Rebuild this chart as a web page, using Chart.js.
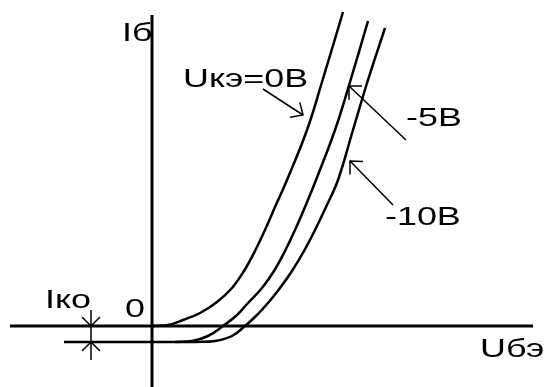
<!DOCTYPE html>
<html>
<head>
<meta charset="utf-8">
<script src="https://cdn.jsdelivr.net/npm/chart.js@4.4.0/dist/chart.umd.min.js"></script>
<style>
  body { margin: 0; background: #ffffff; }
  canvas { display: block; }
</style>
</head>
<body>
<canvas id="myChart" width="544" height="387"></canvas>
<script>
// base current vs base-emitter voltage, arbitrary units (origin at the axes crossing)
const ube0 = [0, 16, 31, 48, 65, 80, 92, 103, 113, 123, 135, 155, 170, 191];
const ib0 = [0, 1, 6, 13, 24, 38, 55, 75, 96, 119, 146, 196, 244, 314];

const ube5 = [23, 40, 56, 71, 85, 96, 110, 122, 133, 143, 153, 164, 183, 198, 216];
const ib5 = [-16, -15, -10, 0, 11, 23, 38, 55, 75, 96, 119, 146, 196, 244, 305];

const ube10 = [43, 63, 80, 93, 105, 116, 128, 140, 152, 163, 174, 186, 201, 216, 233];
const ib10 = [-16, -15, -10, 0, 11, 23, 38, 55, 75, 96, 119, 146, 196, 246, 298];

// reverse current Iko level
const ikoX = [-88, 43];
const ikoY = [-16, -16];

// axes
const axisX = [-142, 381];
const axisY = [311, -61];

// label arrows: [startX, startY, tipX, tipY]
const arrows = [
  [111, 237, 151, 211],
  [254, 186, 197, 240],
  [241, 121, 198, 165],
];

const labels = [
  { text: "Uкэ=0В", x: 31, y: 239 },
  { text: "-5В", x: 254, y: 200 },
  { text: "-10В", x: 233, y: 101 },
  { text: "Uбэ", x: 328, y: -31 },
  { text: "Iб", x: -30, y: 285 },
  { text: "Iко", x: -107, y: 18 },
  { text: "0", x: -27, y: 9 },
];

function toPoints(xs, ys) {
  return xs.map((x, i) => ({ x: x, y: ys[i] }));
}

function lineSet(points, width, tension) {
  return {
    data: points,
    showLine: true,
    borderColor: "#000000",
    borderWidth: width,
    pointRadius: 0,
    tension: tension || 0,
  };
}

const datasets = [
  lineSet([{ x: axisX[0], y: 0 }, { x: axisX[1], y: 0 }], 3),
  lineSet([{ x: 0, y: axisY[0] }, { x: 0, y: axisY[1] }], 3),
  lineSet(toPoints(ikoX, ikoY), 2.5),
  lineSet(toPoints(ube0, ib0), 2.5, 0.4),
  lineSet(toPoints(ube5, ib5), 2.5, 0.4),
  lineSet(toPoints(ube10, ib10), 2.5, 0.4),
];

// dimension mark for Iko
const mx = -61;
datasets.push(lineSet([{ x: mx, y: 16 }, { x: mx, y: -34 }], 1.5));
datasets.push(lineSet([{ x: mx - 9, y: 9 }, { x: mx, y: 0 }, { x: mx + 9, y: 9 }], 1.5));
datasets.push(lineSet([{ x: mx - 9, y: -25 }, { x: mx, y: -16 }, { x: mx + 9, y: -25 }], 1.5));

// arrows with open heads
for (let i = 0; i < arrows.length; i++) {
  const a = arrows[i];
  datasets.push(lineSet([{ x: a[0], y: a[1] }, { x: a[2], y: a[3] }], 1.5));
  const ang = Math.atan2(a[1] - a[3], a[0] - a[2]);
  const len = 13;
  const spread = 0.75;
  datasets.push(lineSet([
    { x: a[2] + len * Math.cos(ang - spread), y: a[3] + len * Math.sin(ang - spread) },
    { x: a[2], y: a[3] },
    { x: a[2] + len * Math.cos(ang + spread), y: a[3] + len * Math.sin(ang + spread) },
  ], 1.5));
}

const textPlugin = {
  id: "textLabels",
  afterDraw(chart) {
    const c = chart.ctx;
    const sx = chart.scales.x;
    const sy = chart.scales.y;
    c.save();
    c.fillStyle = "#000000";
    c.font = "26px 'Liberation Sans', Arial, sans-serif";
    c.textAlign = "left";
    c.textBaseline = "alphabetic";
    labels.forEach((l) => {
      c.save();
      c.translate(sx.getPixelForValue(l.x), sy.getPixelForValue(l.y));
      c.scale(1.38, 1);
      c.fillText(l.text, 0, 0);
      c.restore();
    });
    c.restore();
  },
};

const ctx = document.getElementById("myChart");
const chart = new Chart(ctx, {
  type: "scatter",
  data: { datasets: datasets },
  options: {
    responsive: false,
    animation: false,
    layout: { padding: 0 },
    scales: {
      x: { type: "linear", min: -152, max: 392, display: false },
      y: { type: "linear", min: -61, max: 326, display: false },
    },
    plugins: {
      legend: { display: false },
      tooltip: { enabled: false },
    },
  },
  plugins: [textPlugin],
});
</script>
</body>
</html>
